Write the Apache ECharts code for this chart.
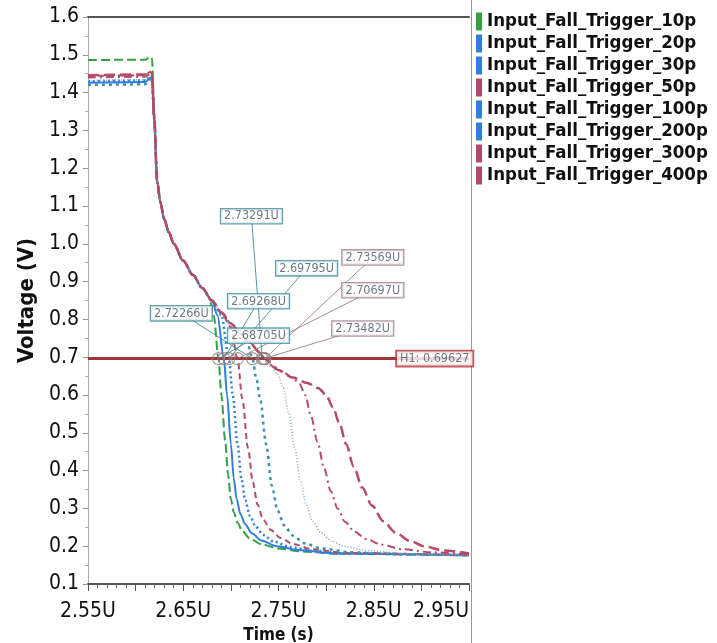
<!DOCTYPE html>
<html>
<head>
<meta charset="utf-8">
<script src="https://cdn.jsdelivr.net/npm/echarts@6/dist/echarts.min.js"></script>
<style>
  html, body { margin: 0; padding: 0; background: #fff; }
  #fallChart { width: 717px; height: 643px; }
</style>
</head>
<body>
<div id="fallChart"></div>
<script>
  // waveform points [time (us), voltage (V)]
  var trig10p = [[2.55,1.486],[2.610,1.487],[2.6155,1.495],[2.6172,1.49],[2.6195,1.35],[2.6226,1.165],[2.626,1.11],[2.630,1.065],[2.635,1.03],[2.640,1.00],[2.650,0.955],[2.660,0.918],[2.670,0.883],[2.677,0.86],[2.682,0.81],[2.68705,0.696],[2.690,0.60],[2.694,0.48],[2.697,0.39],[2.700,0.325],[2.703,0.29],[2.707,0.262],[2.712,0.24],[2.720,0.22],[2.732,0.205],[2.750,0.194],[2.775,0.186],[2.810,0.18],[2.95,0.176]]
  var trig20p = [[2.55,1.426],[2.610,1.428],[2.6155,1.44],[2.6172,1.44],[2.6195,1.33],[2.6226,1.165],[2.626,1.11],[2.630,1.065],[2.635,1.03],[2.640,1.00],[2.650,0.955],[2.660,0.918],[2.670,0.883],[2.680,0.85],[2.686,0.81],[2.69268,0.696],[2.696,0.60],[2.700,0.47],[2.703,0.38],[2.706,0.325],[2.710,0.285],[2.715,0.258],[2.722,0.234],[2.732,0.215],[2.748,0.2],[2.770,0.19],[2.810,0.181],[2.95,0.176]]
  var trig30p = [[2.55,1.43],[2.610,1.432],[2.6155,1.442],[2.6172,1.44],[2.6195,1.33],[2.6226,1.165],[2.626,1.11],[2.630,1.065],[2.635,1.03],[2.640,1.00],[2.650,0.955],[2.660,0.918],[2.670,0.883],[2.680,0.85],[2.690,0.812],[2.69795,0.696],[2.702,0.60],[2.707,0.47],[2.711,0.38],[2.715,0.322],[2.720,0.28],[2.726,0.252],[2.734,0.23],[2.745,0.212],[2.762,0.198],[2.785,0.188],[2.820,0.181],[2.95,0.176]]
  var trig50p = [[2.55,1.444],[2.610,1.446],[2.6155,1.455],[2.6172,1.45],[2.6195,1.33],[2.6226,1.165],[2.626,1.11],[2.630,1.065],[2.635,1.03],[2.640,1.00],[2.650,0.955],[2.660,0.918],[2.670,0.883],[2.680,0.85],[2.690,0.818],[2.700,0.78],[2.70697,0.696],[2.712,0.59],[2.718,0.46],[2.723,0.37],[2.728,0.31],[2.734,0.27],[2.742,0.243],[2.752,0.222],[2.766,0.205],[2.785,0.192],[2.820,0.182],[2.95,0.176]]
  var trig100p = [[2.55,1.42],[2.610,1.422],[2.6155,1.435],[2.6172,1.435],[2.6195,1.33],[2.6226,1.165],[2.626,1.11],[2.630,1.065],[2.635,1.03],[2.640,1.00],[2.650,0.955],[2.660,0.918],[2.670,0.883],[2.680,0.85],[2.690,0.818],[2.700,0.789],[2.710,0.762],[2.717,0.74],[2.72266,0.696],[2.727,0.64],[2.731,0.585],[2.737,0.47],[2.743,0.36],[2.749,0.295],[2.756,0.255],[2.765,0.228],[2.777,0.208],[2.795,0.194],[2.825,0.184],[2.870,0.179],[2.95,0.176]]
  var trig200p = [[2.55,1.432],[2.610,1.434],[2.6155,1.445],[2.6172,1.445],[2.6195,1.33],[2.6226,1.165],[2.626,1.11],[2.630,1.065],[2.635,1.03],[2.640,1.00],[2.650,0.955],[2.660,0.918],[2.670,0.883],[2.680,0.85],[2.690,0.818],[2.700,0.789],[2.710,0.762],[2.720,0.738],[2.730,0.713],[2.73291,0.696],[2.742,0.675],[2.749,0.655],[2.755,0.62],[2.761,0.55],[2.767,0.46],[2.773,0.375],[2.779,0.31],[2.786,0.265],[2.795,0.235],[2.806,0.213],[2.820,0.199],[2.845,0.188],[2.885,0.18],[2.95,0.176]]
  var trig300p = [[2.55,1.44],[2.610,1.442],[2.6155,1.45],[2.6172,1.45],[2.6195,1.33],[2.6226,1.165],[2.626,1.11],[2.630,1.065],[2.635,1.03],[2.640,1.00],[2.650,0.955],[2.660,0.918],[2.670,0.883],[2.680,0.85],[2.690,0.818],[2.700,0.789],[2.710,0.762],[2.720,0.738],[2.730,0.713],[2.73482,0.696],[2.745,0.675],[2.755,0.66],[2.765,0.645],[2.772,0.63],[2.778,0.6],[2.784,0.545],[2.791,0.475],[2.798,0.405],[2.805,0.345],[2.812,0.3],[2.820,0.264],[2.830,0.238],[2.842,0.219],[2.858,0.204],[2.880,0.192],[2.910,0.184],[2.95,0.178]]
  var trig400p = [[2.55,1.446],[2.610,1.448],[2.6155,1.452],[2.6172,1.45],[2.6195,1.33],[2.6226,1.165],[2.626,1.11],[2.630,1.065],[2.635,1.03],[2.640,1.00],[2.650,0.955],[2.660,0.918],[2.670,0.883],[2.680,0.85],[2.690,0.818],[2.700,0.789],[2.710,0.762],[2.720,0.738],[2.730,0.713],[2.73569,0.696],[2.749,0.667],[2.765,0.646],[2.780,0.632],[2.792,0.618],[2.800,0.6],[2.807,0.568],[2.814,0.525],[2.821,0.47],[2.829,0.41],[2.838,0.355],[2.848,0.308],[2.860,0.266],[2.873,0.236],[2.887,0.215],[2.903,0.2],[2.922,0.189],[2.95,0.181]]

  var seriesNames = ['Input_Fall_Trigger_10p','Input_Fall_Trigger_20p','Input_Fall_Trigger_30p','Input_Fall_Trigger_50p','Input_Fall_Trigger_100p','Input_Fall_Trigger_200p','Input_Fall_Trigger_300p','Input_Fall_Trigger_400p']
  var seriesData = [trig10p, trig20p, trig30p, trig50p, trig100p, trig200p, trig300p, trig400p]

  // H1 cursor level and the measured crossing times
  var h1Level = 0.69627
  var crossTimes = [2.68705, 2.69268, 2.69795, 2.70697, 2.72266, 2.73291, 2.73482, 2.73569]

  var xTickMin = 2.55, xTickMax = 2.95
  var yTickMin = 0.1, yTickMax = 1.6

  var FONT = "'Liberation Sans Narrow', 'DejaVu Sans Condensed', 'Liberation Sans', sans-serif"
  var GREEN = '#34a040', BLUE = '#2f7fdc', MAUVE = '#b54a66'
  var colors = [GREEN, BLUE, BLUE, MAUVE, BLUE, BLUE, MAUVE, MAUVE]
  var lineStyles = [
    {type: [9, 4], width: 2},
    {type: 'solid', width: 2},
    {type: [2, 3], width: 2.5},
    {type: [6, 4], width: 2},
    {type: [3, 4], width: 2.5, color: '#3b8fa8'},
    {type: [1, 2], width: 1.5, color: '#7fa8c8'},
    {type: [8, 4, 2, 4], width: 2},
    {type: [11, 5], width: 2.5}
  ]

  // marker labels: [label time, label voltage, crossing index, box colour]
  var markerBoxes = [
    [2.7216, 1.073, 5, '#3f8f9c'],
    [2.7795, 0.935, 2, '#3f8f9c'],
    [2.8490, 0.964, 7, '#9c7f8a'],
    [2.8490, 0.877, 3, '#9c7f8a'],
    [2.7290, 0.848, 1, '#3f8f9c'],
    [2.6480, 0.816, 4, '#3f8f9c'],
    [2.7290, 0.757, 0, '#3f8f9c'],
    [2.8384, 0.776, 6, '#9c7f8a']
  ]

  var chart = echarts.init(document.getElementById('fallChart'))

  var series = []
  for (var i = 0; i < seriesNames.length; i++) {
    var ls = Object.assign({color: colors[i]}, lineStyles[i])
    series.push({
      name: seriesNames[i],
      type: 'line',
      data: seriesData[i],
      showSymbol: false,
      smooth: 0.3,
      smoothMonotone: 'x',
      itemStyle: {color: colors[i]},
      lineStyle: ls,
      z: 3,
      animation: false
    })
  }

  // H1 cursor line
  series.push({
    name: 'H1',
    type: 'line',
    data: [[xTickMin, h1Level], [xTickMax, h1Level]],
    showSymbol: false,
    lineStyle: {color: '#9e3838', width: 3},
    z: 4,
    animation: false
  })

  // leader lines from boxes to crossings
  series.push({
    type: 'lines',
    coordinateSystem: 'cartesian2d',
    data: markerBoxes.map(function (b) {
      return {coords: [[b[0], b[1]], [crossTimes[b[2]], h1Level]], lineStyle: {color: b[3]}}
    }),
    lineStyle: {width: 1, opacity: 0.9},
    z: 5,
    animation: false
  })

  // circles at the crossings
  series.push({
    type: 'scatter',
    data: crossTimes.map(function (t) { return [t, h1Level] }),
    symbol: 'circle',
    symbolSize: 12,
    itemStyle: {color: 'rgba(0,0,0,0)', borderColor: '#8c7f80', borderWidth: 1.2},
    z: 6,
    animation: false
  })

  // marker value boxes
  series.push({
    type: 'scatter',
    data: markerBoxes.map(function (b) {
      return {
        value: [b[0], b[1]],
        label: {borderColor: b[3]}
      }
    }).concat([{value: [2.914, h1Level], label: {borderColor: '#b03535', borderWidth: 1.8}}]),
    symbolSize: 0,
    label: {
      show: true,
      position: 'inside',
      formatter: function (p) {
        if (p.dataIndex < markerBoxes.length) return crossTimes[markerBoxes[p.dataIndex][2]].toFixed(5) + 'U'
        return 'H1: ' + h1Level
      },
      fontFamily: FONT,
      fontSize: 12.5,
      color: '#4a5868',
      backgroundColor: '#fff',
      borderWidth: 1.3,
      padding: [1, 3, 0, 3]
    },
    z: 8,
    animation: false
  })

  var option = {
    animation: false,
    grid: {left: 88, right: 248, top: 17, bottom: 59, outerBoundsMode: 'none'},
    legend: {
      data: seriesNames,
      orient: 'vertical',
      left: 471,
      top: 7,
      icon: 'rect',
      itemWidth: 6,
      itemHeight: 18,
      itemGap: 3,
      textStyle: {fontFamily: FONT, fontSize: 18.5, color: '#111', fontWeight: 'bold', lineHeight: 18}
    },
    xAxis: [{
      type: 'value',
      min: xTickMin,
      max: xTickMax,
      interval: 0.05,
      name: 'Time (s)',
      nameLocation: 'middle',
      nameGap: 40,
      nameTextStyle: {fontFamily: FONT, fontSize: 17, color: '#111', fontWeight: 'bold'},
      axisLine: {lineStyle: {color: '#555', width: 2}},
      axisTick: {show: true, length: 7, lineStyle: {color: '#555'}},
      minorTick: {show: true, splitNumber: 5, length: 4, lineStyle: {color: '#666'}},
      splitLine: {show: false},
      axisLabel: {
        fontFamily: FONT, fontSize: 21, color: '#111', margin: 17,
        alignMaxLabel: 'right',
        formatter: function (v) {
          var k = Math.round(v * 100)
          return k % 10 === 5 ? (k / 100).toFixed(2) + 'U' : ''
        }
      }
    }, {
      type: 'value',
      position: 'top',
      min: xTickMin,
      max: xTickMax,
      axisLine: {show: true, lineStyle: {color: '#555', width: 2}},
      axisTick: {show: false},
      axisLabel: {show: false},
      splitLine: {show: false}
    }],
    yAxis: {
      type: 'value',
      min: yTickMin,
      max: yTickMax,
      interval: 0.1,
      name: 'Voltage (V)',
      nameLocation: 'middle',
      nameGap: 44,
      nameTextStyle: {fontFamily: FONT, fontSize: 22, color: '#111', fontWeight: 'bold'},
      axisLine: {show: true, lineStyle: {color: '#aaa', width: 1}},
      axisTick: {show: true, length: 5, lineStyle: {color: '#999'}},
      minorTick: {show: true, splitNumber: 2, length: 3, lineStyle: {color: '#aaa'}},
      splitLine: {show: false},
      axisLabel: {
        fontFamily: FONT, fontSize: 21, color: '#111', margin: 9,
        formatter: function (v) { return v.toFixed(1) }
      }
    },
    graphic: [{
      type: 'line',
      shape: {x1: 471.5, y1: 0, x2: 471.5, y2: 643},
      style: {stroke: '#999', lineWidth: 1}
    }],
    series: series
  }

  chart.setOption(option)
</script>
</body>
</html>
